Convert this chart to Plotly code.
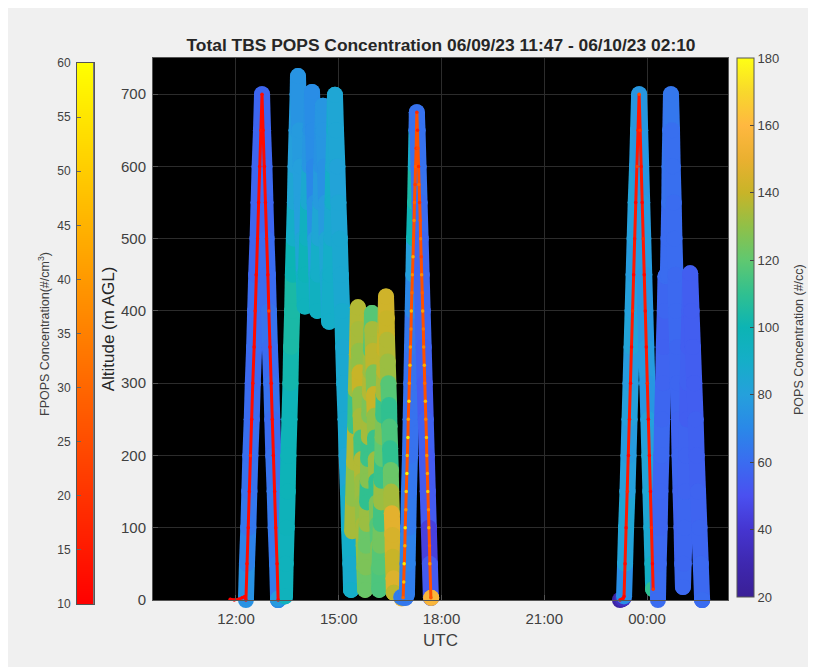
import plotly.graph_objects as go
from plotly.colors import sample_colorscale

# ---------- data (hours UTC, metres AGL, #/cc, #/cm3) ----------
f1_t = [12.29,12.32,12.36,12.39,12.42,12.46,12.49,12.53,12.56,12.59,12.63,12.66,12.69,12.73,12.76,
        12.79,12.83,12.86,12.89,12.93,12.96,12.99,13.03,13.06,13.09,13.13,13.16,13.20,13.23]
f1_alt = [0,50,100,150,200,250,300,350,400,450,500,550,600,650,700,
          650,600,550,500,450,400,350,300,250,200,150,100,50,0]
f1_pops = [74,68,64,62,61,60,59,60,60,58,58,58,58,58,58,
           58,59,58,60,60,62,60,62,60,62,64,64,66,72]
f1_fpops = [11,12,11,11,18,11,12,11,13,11,12,11,11,14,12,
            12,11,11,13,11,24,11,11,12,11,11,12,11,11]
pre1_t = [11.83,11.95,12.08,12.18,12.26]
pre1_alt = [1,0,1,3,5]
pre1_fpops = [10,10,11,10,11]

f2_t = [13.23,13.43,13.45,13.48,13.51,13.53,13.56,13.59,13.61,13.64,13.66,13.69,13.72,13.74,13.77,13.80,13.81,
        13.85,13.89,13.92,13.95,13.98,14.01,14.04,14.08,14.11,14.15,14.18,14.22,
        14.25,14.28,14.30,14.32,14.35,14.37,14.40,14.43,14.47,14.49,14.52,14.54,
        14.56,14.60,14.63,14.65,14.68,14.72,14.76,14.79,14.82,14.84,14.87,14.89,
        14.92,14.96,14.99,15.03,15.06,15.10,15.13,15.16,15.20,15.23,15.27,15.30,15.34,15.36]
f2_alt = [2,5,50,100,150,200,250,300,350,400,450,500,550,600,650,700,725,
          650,600,550,500,450,406,450,500,550,600,650,703,
          650,600,550,500,450,400,450,500,550,600,650,684,
          650,600,550,500,450,385,450,500,550,600,650,699,
          650,600,550,500,450,400,350,300,250,200,150,100,50,14]
f2_pops = [78,96,96,97,98,98,98,102,104,104,100,90,84,80,78,76,75,
           78,80,80,84,92,96,98,94,86,76,74,72,
           72,70,74,80,86,94,90,84,78,74,75,76,
           76,74,78,84,86,90,90,86,90,85,88,84,
           84,82,84,86,86,88,86,86,86,84,88,90,88,90]

f3_t = [15.39,15.42,15.45,15.48,15.50,15.53,15.56,
        15.58,15.59,15.61,15.62,15.64,15.66,15.67,15.69,15.70,15.72,15.73,15.75,15.77,
        15.79,15.80,15.82,15.83,15.85,15.86,15.88,15.89,15.91,15.93,15.94,15.96,15.97,
        15.98,16.00,16.02,16.03,16.05,16.06,16.08,16.10,16.11,16.13,16.15,16.16,16.18,
        16.19,16.21,16.23,16.24,16.25,16.27,16.28,16.30,16.31,16.33,16.34,16.36,16.38,
        16.40,16.41,16.43,16.45,16.47,16.48,16.50,16.52,16.53,16.55,16.57,16.58,16.60,16.61]
f3_alt = [95,140,190,240,290,340,405,
          375,345,315,285,255,225,195,165,135,105,75,45,14,
          45,75,105,135,165,195,225,255,285,315,345,375,397,
          375,345,315,285,255,225,195,165,135,105,75,45,14,
          45,75,105,135,165,195,225,255,285,315,345,375,420,
          390,360,330,300,270,240,210,180,150,120,90,60,30,10]
f3_pops = [134,130,136,112,132,138,136,
           134,130,140,130,134,114,136,132,130,134,130,128,122,
           126,122,132,110,128,112,134,126,136,132,118,122,118,
           134,138,126,140,130,112,132,110,126,118,126,122,116,
           118,124,114,132,112,120,126,112,134,138,140,136,142,
           140,136,132,118,110,116,110,122,134,148,144,140,146,138]

f4_t = [16.84,16.82,16.88,16.95,16.99,17.01,17.03,17.05,17.08,17.10,17.12,17.14,17.16,17.18,17.20,17.23,17.25,17.27,17.28,
        17.30,17.33,17.36,17.39,17.42,17.45,17.48,17.51,17.54,17.57,17.60,17.63,17.66,17.69,17.70]
f4_alt = [2,4,3,3,8,50,100,150,200,250,300,350,400,450,500,550,600,650,675,
          650,600,550,500,450,400,350,300,250,200,150,100,50,3,3]
f4_pops = [150,66,66,64,66,68,65,64,62,62,62,64,70,80,100,104,88,64,62,
           62,62,60,58,58,58,56,54,56,54,54,44,54,54,157]

fp4_t = [16.88,16.90,16.91,16.93,16.94,16.96,16.97,16.99,17.00,17.02,17.03,17.05,17.06,17.08,17.09,17.11,17.12,17.14,17.15,17.17,17.18,17.20,17.21,17.23,17.24,17.26,17.28,
         17.30,17.31,17.33,17.34,17.36,17.38,17.39,17.41,17.42,17.44,17.45,17.47,17.48,17.50,17.51,17.53,17.54,17.56,17.57,17.59,17.60,17.62,17.63,17.65,17.66,17.69]
fp4_alt = [3,25,50,75,100,125,150,175,200,225,250,275,300,325,350,375,400,425,450,475,500,525,550,575,600,625,675,
           650,625,600,575,550,525,500,475,450,425,400,375,350,325,300,275,250,225,200,175,150,125,100,75,50,3]
fp4_fpops = [30,48,56,44,55,38,52,58,46,56,42,54,36,48,40,34,46,30,38,44,26,36,30,22,28,20,18,
             16,24,18,30,20,26,34,22,38,28,42,32,36,44,30,46,34,48,38,42,50,36,44,28,40,26]

f5_t = [23.21,23.26,23.30,23.33,23.36,23.39,23.43,23.46,23.49,23.52,23.55,23.58,23.61,23.64,23.67,23.71,23.74,23.77,
        23.80,23.83,23.86,23.89,23.92,23.95,23.98,24.01,24.04,24.07,24.10,24.13,24.16,24.18]
f5_alt = [0,1,2,5,50,100,150,200,250,300,350,400,450,500,550,600,650,700,
          650,600,550,500,450,400,350,300,250,200,150,100,50,15]
f5_pops = [25,30,36,72,82,84,80,78,80,78,82,80,78,80,82,78,78,76,
           76,76,78,78,76,76,78,76,80,82,84,86,92,110]
f5_fpops = [11,11,12,11,12,11,17,11,14,11,11,19,11,13,11,22,16,25,
            20,13,11,18,11,12,11,17,11,12,11,18,11,20]

f6_t = [24.32,24.34,24.37,24.39,24.42,24.44,24.47,24.49,24.52,24.54,24.61,24.63,24.65,24.66,24.68,24.70,
        24.73,24.75,24.78,24.80,24.83,24.85,24.88,24.90,24.93,24.95,24.98,25.01,25.03,25.05,
        25.07,25.10,25.12,25.14,25.17,25.19,25.21,25.24,25.26,
        25.30,25.34,25.38,25.42,25.45,25.49,25.53,25.57,25.61]
f6_alt = [0,50,100,150,200,250,300,350,400,448,450,500,550,600,650,700,
          650,600,550,500,450,400,350,300,250,200,150,100,50,18,
          50,100,150,200,250,300,350,400,452,
          400,350,300,250,200,150,100,50,0]
f6_pops = [60,59,58,58,59,58,57,56,58,60,60,60,62,63,62,64,
           61,61,60,60,59,59,58,58,57,58,57,57,58,59,
           58,58,57,57,55,56,55,56,55,
           55,55,55,56,56,57,58,59,60]

fp_line_colors = ["#ff0a00", "#ff5000", "#ff1800"]

pops_ticks = [20,40,60,80,100,120,140,160,180]
fpops_ticks = [10,15,20,25,30,35,40,45,50,55,60]
alt_ticks = [0,100,200,300,400,500,600,700]
time_ticks = [12,15,18,21,24]
time_labels = ["12:00","15:00","18:00","21:00","00:00"]

TITLE = "Total TBS POPS Concentration 06/09/23 11:47 - 06/10/23 02:10"

# ---------- styling ----------
OX, OY = 8, 8           # default page margin of the html body
W, H = 816, 667         # the grey panel runs past the window edge and is cut there
def fx(px): return (px - OX) / W
def fy(px): return 1 - (px - OY) / H

FONT = "Liberation Sans"
INK = "#404040"
BG = "#f0f0f0"
POPS_SCALE = [[0,"#3a1f96"],[0.0625,"#3e28b0"],[0.125,"#4535d0"],[0.1875,"#4a50f0"],[0.25,"#3a6cf0"],
              [0.3125,"#2a88e8"],[0.375,"#25a0dc"],[0.4375,"#15aec8"],[0.5,"#0cb4b4"],[0.5625,"#30c090"],
              [0.625,"#60c870"],[0.6875,"#90c048"],[0.75,"#c8b428"],[0.8125,"#eab030"],[0.875,"#ffb840"],
              [0.9375,"#f8d82c"],[1,"#ffff14"]]
FPOPS_SCALE = [[0,"#ff0000"],[1,"#ffff00"]]
BAND = 16

def pops_color(v):
    return sample_colorscale(POPS_SCALE, [(v - 20) / 160])[0]

fig = go.Figure()
flights = [(f1_t,f1_alt,f1_pops),(f2_t,f2_alt,f2_pops),(f3_t,f3_alt,f3_pops),
           (f4_t,f4_alt,f4_pops),(f5_t,f5_alt,f5_pops),(f6_t,f6_alt,f6_pops)]
# each sample is painted in time order so later passes overlap earlier ones, as in the original scatter
for t,a,p in flights:
    for i in range(len(t)):
        j = min(i+1, len(t)-1)
        fig.add_trace(go.Scatter(x=[t[i],t[j]],y=[a[i],a[j]],mode="lines+markers",
                                 line=dict(color=pops_color(p[i]),width=BAND),
                                 marker=dict(size=BAND,color=[p[i],p[i]],coloraxis="coloraxis",opacity=1,line=dict(width=0)),
                                 cliponaxis=False,showlegend=False))

fp_flights = [(pre1_t+f1_t,pre1_alt+f1_alt,pre1_fpops+f1_fpops),(fp4_t,fp4_alt,fp4_fpops),(f5_t,f5_alt,f5_fpops)]
for (t,a,v),c in zip(fp_flights,fp_line_colors):
    fig.add_trace(go.Scatter(x=t,y=a,mode="lines",line=dict(color=c,width=3),
                             cliponaxis=False,hoverinfo="skip",showlegend=False))
    fig.add_trace(go.Scatter(x=t,y=a,mode="markers",
                             marker=dict(size=3.5,color=v,coloraxis="coloraxis2",opacity=1,line=dict(width=0)),
                             cliponaxis=False,showlegend=False))

# left scale, drawn as its own small axis so its labels sit on the left
fig.add_trace(go.Heatmap(x=[0,1],y=fpops_ticks,z=[[v,v] for v in fpops_ticks],coloraxis="coloraxis2",
                         zsmooth="best",xaxis="x2",yaxis="y2",hoverinfo="skip"))

ax_line = dict(showline=True,linecolor="#555555",linewidth=1,mirror=True)
fig.update_layout(
    width=W,height=H,autosize=False,
    margin=dict(l=0,r=0,t=0,b=0,autoexpand=False),
    paper_bgcolor=BG,plot_bgcolor="black",
    font=dict(family=FONT,color=INK,size=14),
    showlegend=False,
    title=dict(text=f"<b>{TITLE}</b>",x=fx(441),xanchor="center",y=fy(45),yanchor="middle",
               font=dict(size=17.4,color="#262626",family=FONT)),
    xaxis=dict(domain=[fx(153),fx(728)],range=[9.577,26.365],tickvals=time_ticks,ticktext=time_labels,
               ticks="inside",ticklen=5,tickcolor="#555555",showgrid=True,gridcolor="#2c2c2c",zeroline=False,
               ticklabelstandoff=5,
               title=dict(text="UTC",standoff=8,font=dict(size=17,color=INK)),tickfont=dict(size=15,color=INK),**ax_line),
    yaxis=dict(domain=[fy(600),fy(58)],range=[0,750],tickvals=alt_ticks,
               ticks="inside",ticklen=5,tickcolor="#555555",showgrid=True,gridcolor="#2c2c2c",zeroline=False,
               ticklabelstandoff=3,
               title=dict(text="Altitude (m AGL)",standoff=2,font=dict(size=17,color="#262626")),tickfont=dict(size=15,color=INK),**ax_line),
    xaxis2=dict(domain=[fx(77),fx(93.5)],range=[0,1],anchor="y2",showticklabels=False,ticks="",showgrid=False,zeroline=False,**ax_line),
    yaxis2=dict(domain=[fy(604),fy(63)],range=[10,60],anchor="x2",tickvals=fpops_ticks,side="left",
                ticks="inside",ticklen=4,tickcolor="#666666",showgrid=False,zeroline=False,ticklabelstandoff=3,
                tickfont=dict(size=12,color=INK),**ax_line),
    coloraxis=dict(cmin=20,cmax=180,colorscale=POPS_SCALE,
                   colorbar=dict(x=fx(737),xanchor="left",y=fy(597),yanchor="bottom",
                                 len=(597-58)/H,lenmode="fraction",thickness=17,thicknessmode="pixels",
                                 tickvals=pops_ticks,ticks="inside",ticklen=4,tickcolor="#444444",
                                 tickprefix="\u00a0",
                                 tickfont=dict(size=13,color=INK),outlinecolor="#555555",outlinewidth=1,
                                 xpad=0,ypad=0)),
    coloraxis2=dict(cmin=10,cmax=60,colorscale=FPOPS_SCALE,showscale=False),
    annotations=[dict(text="FPOPS Concentration(#/cm<sup>3</sup>)",xref="paper",yref="paper",
                      x=fx(44),y=fy(334),xanchor="center",yanchor="middle",textangle=-90,showarrow=False,
                      font=dict(size=12.5,color=INK)),
                 dict(text="POPS Concentration (#/cc)",xref="paper",yref="paper",
                      x=fx(799),y=fy(340),xanchor="center",yanchor="middle",textangle=-90,showarrow=False,
                      font=dict(size=12.5,color=INK))],
)
fig.write_html("out.html", post_script="document.documentElement.style.overflow='hidden';")
